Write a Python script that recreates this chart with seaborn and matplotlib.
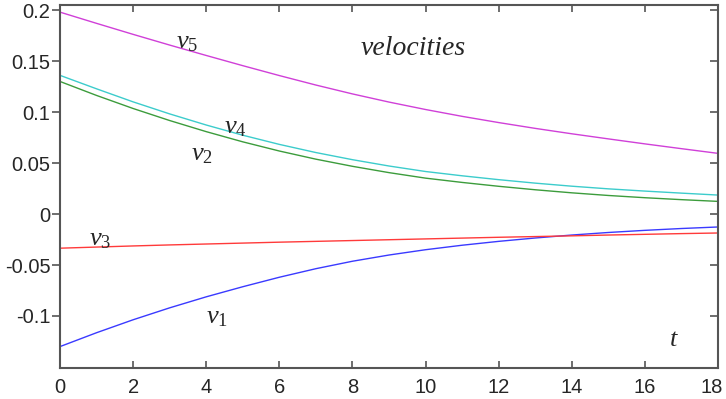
import numpy as np
import pandas as pd
import matplotlib
matplotlib.use("Agg")
import matplotlib.pyplot as plt
import matplotlib.transforms as mtransforms
import seaborn as sns

t = list(range(0, 19))
v1 = [-0.130, -0.1164, -0.1037, -0.0920, -0.0812, -0.0713, -0.0620, -0.0536, -0.0463, -0.0402,
      -0.0350, -0.0306, -0.0268, -0.0235, -0.0206, -0.0181, -0.0160, -0.0142, -0.0127]
v2 = [0.130, 0.1163, 0.1035, 0.0917, 0.0808, 0.0708, 0.0618, 0.0538, 0.0468, 0.0406,
      0.0352, 0.0310, 0.0272, 0.0238, 0.0208, 0.0182, 0.0160, 0.0141, 0.0124]
v3 = [-0.0335, -0.0324, -0.0313, -0.0303, -0.0294, -0.0285, -0.0276, -0.0268, -0.0260, -0.0252,
      -0.0244, -0.0236, -0.0228, -0.0221, -0.0214, -0.0206, -0.0199, -0.0192, -0.0186]
v4 = [0.136, 0.1228, 0.1100, 0.0982, 0.0873, 0.0773, 0.0683, 0.0603, 0.0533, 0.0471,
      0.0417, 0.0375, 0.0337, 0.0303, 0.0273, 0.0247, 0.0225, 0.0205, 0.0186]
v5 = [0.198, 0.187, 0.1762, 0.1657, 0.1555, 0.1455, 0.1358, 0.1265, 0.1178, 0.1098,
      0.1025, 0.0958, 0.0897, 0.0840, 0.0787, 0.0737, 0.0688, 0.0641, 0.0595]

series = {"v1": v1, "v2": v2, "v3": v3, "v4": v4, "v5": v5}
colors = {"v1": "#3a3aff", "v2": "#3c9c3c", "v3": "#ff3a3a", "v4": "#3ccccc", "v5": "#d040d8"}

xticks = [0, 2, 4, 6, 8, 10, 12, 14, 16, 18]
yticks = [-0.1, -0.05, 0, 0.05, 0.1, 0.15, 0.2]
ytick_labels = ["-0.1", "-0.05", "0", "0.05", "0.1", "0.15", "0.2"]

df = pd.concat([pd.DataFrame({"t": t, "v": vals, "series": name}) for name, vals in series.items()])

sns.set_style("white")
plt.rcParams["font.family"] = ["Liberation Sans", "DejaVu Sans"]
plt.rcParams["mathtext.fontset"] = "custom"
plt.rcParams["mathtext.it"] = "Liberation Serif:italic"
plt.rcParams["mathtext.rm"] = "Liberation Serif"

fig = plt.figure(figsize=(7.26, 3.99), dpi=100)
ax = fig.add_axes([60/726, 1 - 368/399, 658/726, 363/399])

sns.lineplot(data=df, x="t", y="v", hue="series", palette=colors, ax=ax,
             legend=False, linewidth=1.0)

ax.set_xlim(0, 18)
ax.set_ylim(-0.151, 0.205)
ax.set_xticks(xticks)
ax.set_xticklabels([str(x) for x in xticks])
ax.set_yticks(yticks)
ax.set_yticklabels(ytick_labels)
ax.set_xlabel("")
ax.set_ylabel("")

spine_col = "#555555"
for s in ax.spines.values():
    s.set_color(spine_col)
    s.set_linewidth(1.5)
    s.set_visible(True)

ax.tick_params(axis="x", which="both", direction="in", length=5, width=1.2,
               color=spine_col, top=True, bottom=True, labelsize=14.5, pad=7)
ax.tick_params(axis="y", which="both", direction="out", length=6, width=1.2,
               color=spine_col, left=True, labelsize=14.5, pad=1)

# shift last x label slightly left so it stays inside the figure, as in the reference
last = ax.get_xticklabels()[-1]
last.set_transform(last.get_transform() + mtransforms.ScaledTranslation(-6/100, 0, fig.dpi_scale_trans))

axr = ax.twinx()
axr.set_ylim(ax.get_ylim())
axr.set_yticks(yticks)
axr.tick_params(axis="y", direction="in", length=6, width=1.2, color=spine_col,
                labelright=False)
for s in axr.spines.values():
    s.set_visible(False)

lab_kw = dict(transform=ax.transAxes, ha="center", va="center", fontsize=19)
ax.text(0.193, 0.898, r"$v_5$", **lab_kw)
ax.text(0.266, 0.664, r"$v_4$", **lab_kw)
ax.text(0.216, 0.590, r"$v_2$", **lab_kw)
ax.text(0.061, 0.356, r"$v_3$", **lab_kw)
ax.text(0.239, 0.141, r"$v_1$", **lab_kw)
ax.text(0.536, 0.881, "velocities", transform=ax.transAxes, ha="center", va="center",
        fontsize=20, family="Liberation Serif", style="italic")
ax.text(0.932, 0.077, "t", transform=ax.transAxes, ha="center", va="center",
        fontsize=19, family="Liberation Serif", style="italic")

fig.savefig("out.png", dpi=100)
